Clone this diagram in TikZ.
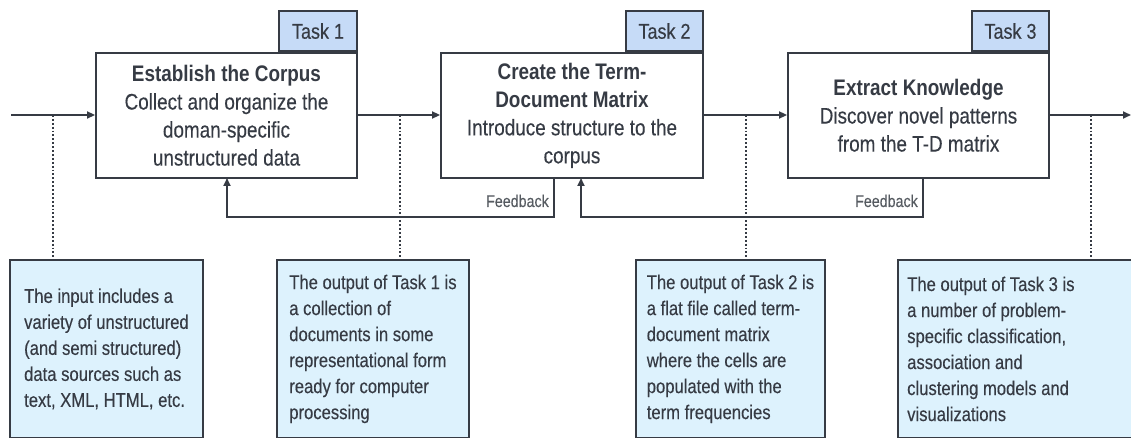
\documentclass[tikz,border=0pt]{standalone}
\usepackage{fontspec}
\setmainfont{Liberation Sans}[FakeStretch=0.84, UprightFeatures={FakeBold=0.25}]
\usetikzlibrary{arrows.meta}
\definecolor{ink}{HTML}{363B44}
\definecolor{notefill}{HTML}{DDF2FD}
\definecolor{tabfill}{HTML}{C6DBF7}
\definecolor{labelgray}{HTML}{555A60}
\tikzset{
  stagebox/.style={draw=ink, line width=1.9pt, fill=white, minimum width=261pt,
    minimum height=125pt, align=center, text=ink, inner sep=0pt,
    font=\fontsize{22.5}{28}\selectfont},
  tasktab/.style={draw=ink, line width=1.9pt, fill=tabfill, minimum width=78pt,
    minimum height=40pt, inner sep=0pt, text=ink, font=\fontsize{21.4}{24}\selectfont,
    anchor=south east},
  notebox/.style={draw=ink, line width=1.9pt, fill=notefill, anchor=north west,
    minimum height=178pt, inner sep=0pt, align=left, text=ink,
    font=\fontsize{19.8}{26}\selectfont},
  notetext/.style={anchor=west, align=left, text=ink, inner sep=0pt,
    font=\fontsize{19.8}{26}\selectfont},
  flow/.style={draw=ink, line width=1.9pt, -{Triangle[length=8pt,width=7pt]}},
  callout/.style={draw=ink, line width=1.9pt, dotted},
  fblabel/.style={text=labelgray, font=\fontsize{17}{18}\selectfont, anchor=base east, inner sep=0pt}
}
\begin{document}
\begin{tikzpicture}[x=1pt,y=-1pt]
\useasboundingbox (0,0) rectangle (1131,438);
\begin{scope}
\clip (0,0) rectangle (1131,438);

% the three processing stages
\node[stagebox] (s1) at (226.5,115.5) {{\bfseries Establish the Corpus}\\Collect and organize the\\doman-specific\\unstructured data};
\node[stagebox, minimum width=262pt] (s2) at (572,115.5) {{\bfseries Create the Term-}\\{\bfseries Document Matrix}\\Introduce structure to the\\corpus};
\node[stagebox] (s3) at (918.5,115.5) {{\bfseries Extract Knowledge}\\Discover novel patterns\\from the T-D matrix};

% task tabs sitting on the stage boxes
\node[tasktab] (t1) at (s1.north east) {Task 1};
\node[tasktab, minimum width=77pt] (t2) at (s2.north east) {Task 2};
\node[tasktab, minimum width=77pt] (t3) at (s3.north east) {Task 3};

% explanatory notes (text block centred in each box, lines left-aligned)
\node[notebox, minimum width=193pt] (n1) at (9,259) {The input includes a\\variety of unstructured\\(and semi structured)\\data sources such as\\text, XML, HTML, etc.};
\node[notebox, minimum width=192pt] (n2) at (276,259) {The output of Task 1 is\\a collection of\\documents in some\\representational form\\ready for computer\\processing};
\node[notebox, minimum width=189pt] (n3) at (635,259) {The output of Task 2 is\\a flat file called term-\\document matrix\\where the cells are\\populated with the\\term frequencies};
% the last note runs past the right edge, so its text is placed on its own
\node[notebox, minimum width=245pt] (n4) at (897,259) {};
\node[notetext] (n4t) at ([xshift=10pt]n4.west) {The output of Task 3 is\\a number of problem-\\specific classification,\\association and\\clustering models and\\visualizations};

% main flow
\coordinate (src) at (11,115);
\coordinate (dst) at (1131,115);
\draw[flow] (src) -- (src -| s1.west);
\draw[flow] (s1.east |- src) -- (s2.west |- src);
\draw[flow] (s2.east |- src) -- (s3.west |- src);
\draw[flow] (s3.east |- src) -- (dst);

% callouts from the flow line to the notes
\coordinate (c1) at (53,115);
\coordinate (c2) at (400,115);
\coordinate (c3) at (746,115);
\coordinate (c4) at (1091,115);
\draw[callout] (c1) -- (c1 |- n1.north);
\draw[callout] (c2) -- (c2 |- n2.north);
\draw[callout] (c3) -- (c3 |- n3.north);
\draw[callout] (c4) -- (c4 |- n4.north);

% feedback loops
\coordinate (f1out) at (554,178);
\coordinate (f1in) at (227,178);
\coordinate (f2out) at (923,178);
\coordinate (f2in) at (581,178);
\draw[flow] (f1out) -- ++(0,39) -| (f1in);
\draw[flow] (f2out) -- ++(0,39) -| (f2in);
\node[fblabel] (fb1) at (549,207) {Feedback};
\node[fblabel] (fb2) at (918,207) {Feedback};
\end{scope}
\end{tikzpicture}
\end{document}
